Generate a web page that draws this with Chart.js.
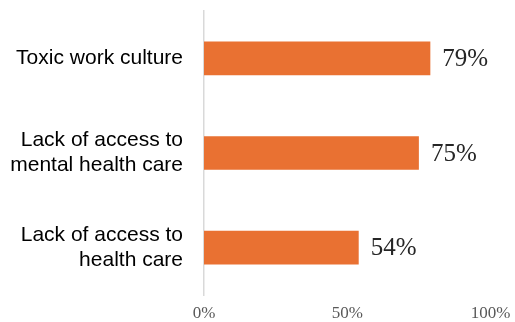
<!DOCTYPE html>
<html>
<head>
<meta charset="utf-8">
<script src="https://cdn.jsdelivr.net/npm/chart.js@4/dist/chart.umd.min.js"></script>
<style>
  html, body { margin: 0; padding: 0; background: #ffffff; }
  #wrap { width: 515px; height: 322px; position: relative; }
</style>
</head>
<body>
<div id="wrap"><canvas id="c" width="515" height="322"></canvas></div>
<script>
// Categories (multi-line labels) and their shares in percent
const categories = [
  ["Toxic work culture"],
  ["Lack of access to", "mental health care"],
  ["Lack of access to", "health care"]
];
const shares = [79, 75, 54];
const tickValues = [0, 50, 100];

const barColor = "#E97132";

// Writes each bar's value just past its end
const valueLabels = {
  id: "valueLabels",
  afterDatasetsDraw(chart) {
    const ctx = chart.ctx;
    const meta = chart.getDatasetMeta(0);
    ctx.save();
    ctx.font = "25px 'Liberation Serif', 'Times New Roman', serif";
    ctx.fillStyle = "#262626";
    ctx.textAlign = "left";
    ctx.textBaseline = "middle";
    meta.data.forEach((bar, i) => {
      ctx.fillText(shares[i] + "%", bar.x + 12, bar.y + 1);
    });
    ctx.restore();
  }
};

new Chart(document.getElementById("c"), {
  type: "bar",
  data: {
    labels: categories,
    datasets: [{
      data: shares,
      backgroundColor: barColor,
      borderWidth: 0,
      categoryPercentage: 1,
      barPercentage: 0.355
    }]
  },
  options: {
    indexAxis: "y",
    responsive: false,
    animation: false,
    layout: { padding: { left: 0, right: 24.5, top: 11, bottom: 0 } },
    plugins: { legend: { display: false }, tooltip: { enabled: false } },
    scales: {
      x: {
        min: 0,
        max: 100,
        afterBuildTicks(scale) { scale.ticks = tickValues.map(v => ({ value: v })); },
        afterFit(scale) {
          scale.height = 27;
          scale.paddingLeft = 0;
          scale.paddingRight = 0;
        },
        grid: { display: false, drawTicks: false },
        border: { display: false },
        ticks: {
          padding: 8,
          color: "#595959",
          font: { family: "'Liberation Serif', 'Times New Roman', serif", size: 17 },
          callback: v => v + "%",
          maxRotation: 0
        }
      },
      y: {
        afterFit(scale) {
          scale.width = 204;
          scale.paddingTop = 0;
          scale.paddingBottom = 0;
        },
        grid: { display: false, drawTicks: false },
        border: { display: true, color: "#d9d9d9", width: 1.5 },
        ticks: {
          padding: 21,
          color: "#000000",
          autoSkip: false,
          font: { family: "'Liberation Sans', Arial, sans-serif", size: 21, lineHeight: 1.2 }
        }
      }
    }
  },
  plugins: [valueLabels]
});
</script>
</body>
</html>
